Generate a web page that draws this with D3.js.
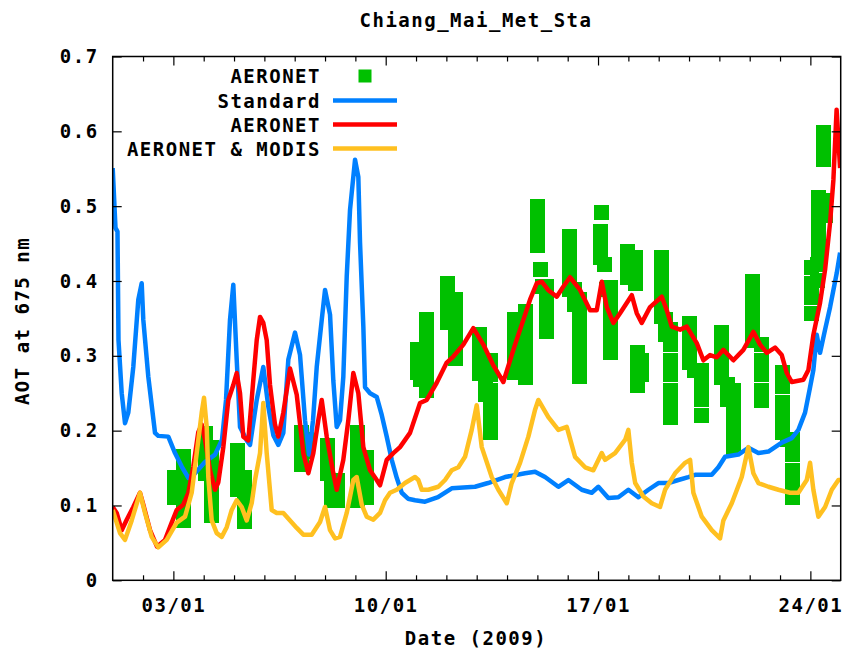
<!DOCTYPE html>
<html>
<head>
<meta charset="utf-8">
<script src="https://cdn.jsdelivr.net/npm/d3@7"></script>
<style>
  body { margin: 0; background: #fff; }
  text { font-family: "DejaVu Sans Mono", monospace; font-weight: bold; font-size: 19px; letter-spacing: 1.5px; fill: #000; }
</style>
</head>
<body>
<svg id="chart" width="843" height="653"></svg>
<script>
// Times are fractional days of January 2009 (1.5 = 01/01 12:00), values are AOT at 675 nm.

const chartTitle = "Chiang_Mai_Met_Sta";
const xTitle = "Date (2009)";
const yTitle = "AOT at 675 nm";

const weekDays = [3, 10, 17, 24];
const weekLabels = ["03/01", "10/01", "17/01", "24/01"];
const yTickValues = [0, 0.1, 0.2, 0.3, 0.4, 0.5, 0.6, 0.7];
const yTickLabels = ["0", "0.1", "0.2", "0.3", "0.4", "0.5", "0.6", "0.7"];

const legendLabels = ["AERONET", "Standard", "AERONET", "AERONET & MODIS"];

// AERONET observations (points)
const aeronetObs = [
  [3.038,0.138],[3.038,0.121],[3.038,0.111],[3.334,0.165],[3.334,0.147],[3.334,0.127],[3.334,0.107],[3.334,0.087],[3.334,0.080],
  [4.043,0.196],[4.043,0.178],[4.043,0.161],[4.043,0.143],[4.241,0.178],[4.241,0.158],[4.241,0.138],[4.241,0.118],[4.241,0.101],[4.241,0.086],
  [5.098,0.174],[5.098,0.157],[5.098,0.139],[5.098,0.122],[5.329,0.138],[5.329,0.121],[5.329,0.103],[5.329,0.087],[5.329,0.079],
  [7.208,0.197],[7.208,0.180],[7.208,0.162],[7.208,0.155],[7.373,0.188],[7.373,0.172],
  [8.066,0.180],[8.066,0.161],[8.066,0.143],[8.198,0.127],[8.198,0.107],[8.395,0.134],[8.395,0.118],[8.395,0.106],
  [9.055,0.198],[9.055,0.180],[9.055,0.161],[9.055,0.141],[9.055,0.121],[9.055,0.107],[9.352,0.164],[9.352,0.145],[9.352,0.125],[9.352,0.110],
  [11.033,0.308],[11.033,0.292],[11.033,0.278],[11.132,0.268],
  [11.330,0.348],[11.330,0.331],[11.330,0.313],[11.330,0.297],[11.330,0.281],[11.330,0.265],[11.330,0.254],
  [12.022,0.396],[12.022,0.379],[12.022,0.361],[12.022,0.344],[12.286,0.375],[12.286,0.357],[12.286,0.340],[12.286,0.323],[12.286,0.305],[12.286,0.297],
  [13.077,0.328],[13.077,0.311],[13.077,0.293],[13.077,0.276],[13.275,0.268],[13.275,0.248],
  [13.440,0.294],[13.440,0.275],[13.440,0.254],[13.440,0.234],[13.440,0.214],[13.440,0.198],
  [14.230,0.348],[14.230,0.331],[14.230,0.313],[14.230,0.296],[14.230,0.278],
  [14.593,0.359],[14.593,0.341],[14.593,0.321],[14.593,0.301],[14.593,0.281],[14.593,0.271],
  [14.993,0.499],[14.993,0.482],[14.993,0.464],[14.993,0.447],[15.092,0.415],[15.158,0.392],
  [15.290,0.392],[15.290,0.375],[15.290,0.357],[15.290,0.340],[15.290,0.332],
  [16.066,0.459],[16.066,0.442],[16.066,0.424],[16.066,0.407],[16.066,0.389],[16.231,0.388],[16.231,0.368],
  [16.396,0.375],[16.396,0.356],[16.396,0.337],[16.396,0.319],[16.396,0.300],[16.396,0.281],[16.396,0.273],
  [17.099,0.491],[17.066,0.466],[17.066,0.448],[17.066,0.431],[17.198,0.422],[17.264,0.388],
  [17.396,0.391],[17.396,0.373],[17.396,0.356],[17.396,0.339],[17.396,0.321],[17.396,0.304],
  [17.981,0.439],[17.981,0.422],[17.981,0.404],[18.245,0.431],[18.245,0.412],[18.245,0.396],
  [18.311,0.305],[18.311,0.288],[18.311,0.271],[18.311,0.260],[18.443,0.294],[18.443,0.275],
  [19.078,0.432],[19.078,0.412],[19.078,0.392],[19.078,0.372],[19.078,0.352],[19.210,0.348],[19.210,0.328],
  [19.374,0.335],[19.374,0.315],[19.374,0.294],[19.374,0.275],[19.374,0.254],[19.374,0.234],[19.374,0.218],
  [19.999,0.343],[19.999,0.325],[19.999,0.308],[19.999,0.291],[20.164,0.281],
  [20.395,0.281],[20.395,0.261],[20.395,0.241],[20.395,0.220],
  [21.056,0.331],[21.056,0.311],[21.056,0.291],[21.056,0.271],[21.254,0.261],[21.254,0.241],
  [21.452,0.254],[21.452,0.234],[21.452,0.214],[21.452,0.194],[21.452,0.178],
  [22.078,0.399],[22.078,0.380],[22.078,0.360],[22.078,0.340],[22.078,0.320],
  [22.375,0.315],[22.375,0.294],[22.375,0.275],[22.375,0.254],[22.375,0.240],
  [23.067,0.278],[23.067,0.259],[23.067,0.238],[23.067,0.218],[23.067,0.198],[23.232,0.188],
  [23.397,0.188],[23.397,0.168],[23.397,0.147],[23.397,0.127],[23.397,0.111],
  [24.419,0.598],[24.419,0.578],[24.419,0.562],
  [24.254,0.512],[24.254,0.492],[24.254,0.472],[24.254,0.452],[24.254,0.432],[24.485,0.508],[24.485,0.488],
  [24.023,0.418],[24.023,0.397],[24.023,0.378],[24.023,0.357],[24.221,0.422],[24.221,0.401]
];

// Standard retrieval (line)
const standardLine = [
  [1.000,0.551],[1.092,0.471],[1.158,0.466],[1.191,0.321],[1.297,0.250],[1.406,0.210],[1.514,0.224],[1.679,0.285],
  [1.844,0.375],[1.956,0.397],[2.009,0.348],[2.174,0.272],[2.395,0.197],[2.503,0.193],[2.833,0.192],[3.054,0.170],
  [3.275,0.152],[3.493,0.137],[3.713,0.143],[4.043,0.158],[4.373,0.168],[4.604,0.188],[4.736,0.241],[4.867,0.348],
  [4.976,0.395],[5.088,0.295],[5.197,0.205],[5.418,0.187],[5.527,0.181],[5.748,0.241],[5.965,0.285],[6.130,0.232],
  [6.295,0.194],[6.460,0.181],[6.625,0.197],[6.790,0.295],[7.011,0.331],[7.176,0.301],[7.340,0.214],[7.472,0.168],
  [7.604,0.214],[7.726,0.285],[7.891,0.348],[8.000,0.388],[8.165,0.355],[8.273,0.267],[8.385,0.205],[8.494,0.214],
  [8.603,0.272],[8.715,0.406],[8.824,0.495],[8.989,0.562],[9.098,0.539],[9.154,0.451],[9.263,0.339],[9.319,0.258],
  [9.484,0.250],[9.704,0.245],[9.869,0.221],[10.034,0.192],[10.199,0.161],[10.364,0.137],[10.529,0.117],[10.736,0.109],
  [10.967,0.107],[11.297,0.105],[11.725,0.111],[12.177,0.123],[12.945,0.125],[13.374,0.130],[13.934,0.138],[14.594,0.143],
  [14.924,0.145],[15.253,0.138],[15.692,0.125],[16.021,0.134],[16.463,0.121],[16.793,0.117],[17.011,0.125],[17.340,0.110],
  [17.670,0.111],[18.000,0.121],[18.329,0.111],[18.659,0.121],[18.989,0.130],[19.319,0.130],[19.648,0.134],[19.978,0.138],
  [20.199,0.141],[20.749,0.141],[20.967,0.151],[21.188,0.165],[21.626,0.168],[21.956,0.177],[22.286,0.170],[22.616,0.172],
  [23.057,0.184],[23.387,0.190],[23.605,0.201],[23.825,0.224],[23.990,0.258],[24.099,0.281],[24.211,0.328],[24.320,0.304],
  [24.485,0.335],[24.650,0.365],[24.871,0.411],[24.980,0.438]
];

// AERONET-constrained retrieval (line)
const aeronetLine = [
  [1.000,0.098],[1.132,0.090],[1.297,0.067],[1.462,0.081],[1.679,0.098],[1.900,0.117],[2.009,0.101],[2.230,0.067],
  [2.461,0.045],[2.725,0.054],[2.945,0.077],[3.110,0.094],[3.328,0.101],[3.493,0.117],[3.657,0.152],[3.822,0.198],
  [3.934,0.208],[4.043,0.188],[4.208,0.147],[4.373,0.121],[4.482,0.131],[4.647,0.178],[4.811,0.241],[4.976,0.261],
  [5.088,0.277],[5.197,0.250],[5.306,0.192],[5.471,0.187],[5.636,0.268],[5.748,0.321],[5.857,0.352],[5.965,0.344],
  [6.077,0.321],[6.186,0.261],[6.351,0.208],[6.460,0.192],[6.625,0.224],[6.846,0.283],[7.067,0.248],[7.284,0.170],
  [7.449,0.143],[7.614,0.170],[7.779,0.214],[7.891,0.241],[8.056,0.192],[8.273,0.143],[8.385,0.121],[8.603,0.161],
  [8.768,0.214],[8.933,0.277],[9.098,0.250],[9.263,0.178],[9.484,0.147],[9.704,0.134],[9.813,0.127],[10.034,0.161],
  [10.252,0.170],[10.472,0.178],[10.802,0.197],[11.132,0.237],[11.353,0.241],[11.682,0.264],[12.012,0.291],[12.230,0.299],
  [12.560,0.315],[12.889,0.337],[13.219,0.315],[13.539,0.288],[13.878,0.265],[14.264,0.315],[14.538,0.348],[14.758,0.375],
  [14.979,0.397],[15.144,0.399],[15.352,0.388],[15.639,0.379],[15.847,0.392],[16.077,0.405],[16.407,0.388],[16.737,0.361],
  [16.958,0.361],[17.123,0.399],[17.288,0.365],[17.505,0.344],[17.726,0.357],[18.112,0.381],[18.276,0.357],[18.441,0.344],
  [18.715,0.365],[19.101,0.379],[19.266,0.361],[19.431,0.339],[19.705,0.335],[19.925,0.339],[20.255,0.317],[20.473,0.294],
  [20.694,0.301],[20.915,0.298],[21.132,0.308],[21.462,0.294],[21.791,0.308],[22.121,0.332],[22.342,0.315],[22.563,0.304],
  [22.836,0.311],[23.057,0.301],[23.222,0.277],[23.387,0.265],[23.770,0.268],[23.935,0.281],[24.099,0.328],[24.320,0.371],
  [24.485,0.415],[24.650,0.478],[24.759,0.535],[24.865,0.629],[24.980,0.551]
];

// AERONET & MODIS constrained retrieval (line)
const modisLine = [
  [1.000,0.094],[1.241,0.063],[1.406,0.054],[1.626,0.080],[1.900,0.117],[2.065,0.090],[2.286,0.058],[2.503,0.044],
  [2.780,0.054],[3.110,0.077],[3.384,0.085],[3.605,0.117],[3.770,0.170],[3.934,0.224],[4.010,0.244],[4.099,0.205],
  [4.152,0.138],[4.264,0.080],[4.429,0.063],[4.594,0.058],[4.759,0.071],[4.924,0.094],[5.088,0.107],[5.253,0.098],
  [5.418,0.080],[5.583,0.103],[5.692,0.134],[5.857,0.170],[5.965,0.237],[6.077,0.170],[6.242,0.094],[6.407,0.090],
  [6.625,0.090],[6.846,0.080],[7.067,0.070],[7.284,0.061],[7.561,0.061],[7.835,0.078],[8.000,0.098],[8.165,0.067],
  [8.330,0.056],[8.494,0.058],[8.715,0.090],[8.933,0.134],[9.045,0.138],[9.210,0.101],[9.374,0.085],[9.592,0.081],
  [9.813,0.090],[9.978,0.107],[10.143,0.117],[10.364,0.121],[10.637,0.130],[10.967,0.138],[11.076,0.134],[11.188,0.121],
  [11.406,0.121],[11.735,0.125],[11.956,0.134],[12.177,0.147],[12.395,0.151],[12.615,0.165],[12.836,0.201],[13.001,0.234],
  [13.166,0.178],[13.496,0.138],[13.714,0.121],[13.991,0.103],[14.155,0.130],[14.429,0.157],[14.703,0.192],[14.924,0.228],
  [15.032,0.241],[15.362,0.218],[15.692,0.201],[15.969,0.205],[16.243,0.165],[16.573,0.151],[16.846,0.147],[17.123,0.170],
  [17.231,0.161],[17.561,0.170],[17.897,0.188],[18.000,0.201],[18.112,0.157],[18.226,0.130],[18.494,0.112],[18.771,0.103],
  [19.045,0.098],[19.210,0.121],[19.540,0.143],[19.870,0.157],[20.035,0.161],[20.143,0.117],[20.420,0.085],[20.749,0.067],
  [21.023,0.056],[21.132,0.080],[21.409,0.103],[21.738,0.138],[21.956,0.178],[22.121,0.143],[22.286,0.130],[22.616,0.125],
  [22.945,0.121],[23.331,0.117],[23.605,0.117],[23.881,0.134],[23.990,0.157],[24.099,0.121],[24.264,0.085],[24.485,0.098],
  [24.706,0.121],[24.924,0.134],[24.980,0.134]
];

const colors = { obs: "#00c000", standard: "#0080ff", aeronet: "#ff0000", modis: "#ffc020" };

const dayToDate = d => new Date(Date.UTC(2009, 0, 1) + (d - 1) * 864e5);

const margin = { left: 112.7, right: 840.7, top: 56.5, bottom: 580.3 };
const svg = d3.select("#chart");

const x = d3.scaleUtc().domain([dayToDate(1), dayToDate(25)]).range([margin.left, margin.right]);
const y = d3.scaleLinear().domain([0, 0.7]).range([margin.bottom, margin.top]);

svg.append("defs").append("clipPath").attr("id", "plot-clip")
  .append("rect").attr("x", margin.left).attr("y", margin.top)
  .attr("width", margin.right - margin.left).attr("height", margin.bottom - margin.top);

// Observation squares
const sq = 15;
svg.append("g").attr("clip-path", "url(#plot-clip)")
  .attr("shape-rendering", "crispEdges")
  .selectAll("rect").data(aeronetObs).join("rect")
  .attr("x", d => x(dayToDate(d[0])) - sq / 2)
  .attr("y", d => y(d[1]) - sq / 2)
  .attr("width", sq).attr("height", sq)
  .attr("fill", colors.obs);

// Retrieval lines
const line = d3.line().x(d => x(dayToDate(d[0]))).y(d => y(d[1]));
const lineGroup = svg.append("g").attr("clip-path", "url(#plot-clip)");
[[standardLine, colors.standard], [aeronetLine, colors.aeronet], [modisLine, colors.modis]].forEach(([data, c]) => {
  lineGroup.append("path").datum(data).attr("d", line)
    .attr("fill", "none").attr("stroke", c).attr("stroke-width", 4.5)
    .attr("stroke-linejoin", "round").attr("stroke-linecap", "butt");
});

// Axes: ticks point inward on all four sides
const dailyTicks = d3.range(2, 25).filter(d => !weekDays.includes(d)).map(dayToDate);
const weeklyTicks = weekDays.map(dayToDate);
const weekLabelOf = d => weekLabels[weeklyTicks.findIndex(t => +t === +d)];

const axisStyle = g => {
  g.select(".domain").remove();
  g.selectAll("line").attr("stroke", "#000").attr("stroke-width", 1.2);
};
const textStyle = g => g.selectAll("text").attr("font-family", null).attr("font-size", null).attr("fill", "#000");

svg.append("g").attr("transform", `translate(0,${margin.bottom})`)
  .call(d3.axisBottom(x).tickValues(weeklyTicks).tickSize(-9).tickPadding(18).tickFormat(weekLabelOf))
  .call(axisStyle).call(textStyle);
svg.append("g").attr("transform", `translate(0,${margin.bottom})`)
  .call(d3.axisBottom(x).tickValues(dailyTicks).tickSize(-5).tickFormat(""))
  .call(axisStyle);
svg.append("g").attr("transform", `translate(0,${margin.top})`)
  .call(d3.axisTop(x).tickValues(weeklyTicks).tickSize(-9).tickFormat(""))
  .call(axisStyle);
svg.append("g").attr("transform", `translate(0,${margin.top})`)
  .call(d3.axisTop(x).tickValues(dailyTicks).tickSize(-5).tickFormat(""))
  .call(axisStyle);

svg.append("g").attr("transform", `translate(${margin.left},0)`)
  .call(d3.axisLeft(y).tickValues(yTickValues).tickSize(-9).tickPadding(14)
    .tickFormat((d, i) => yTickLabels[i]))
  .call(axisStyle).call(textStyle);
svg.append("g").attr("transform", `translate(${margin.right},0)`)
  .call(d3.axisRight(y).tickValues(yTickValues).tickSize(-9).tickFormat(""))
  .call(axisStyle);

// Plot border
svg.append("rect")
  .attr("x", margin.left).attr("y", margin.top)
  .attr("width", margin.right - margin.left).attr("height", margin.bottom - margin.top)
  .attr("fill", "none").attr("stroke", "#000").attr("stroke-width", 1.5);

// Titles
svg.append("text").attr("x", 476).attr("y", 27).attr("text-anchor", "middle").text(chartTitle);
svg.append("text").attr("x", 476).attr("y", 645).attr("text-anchor", "middle").text(xTitle);
svg.append("text").attr("transform", "translate(29,321) rotate(-90)").attr("text-anchor", "middle").text(yTitle);

// Legend
const legendRows = [76, 100.5, 124.5, 148.5];
const legend = svg.append("g");
legendLabels.forEach((label, i) => {
  legend.append("text").attr("x", 321).attr("y", legendRows[i] + 7).attr("text-anchor", "end").text(label);
});
legend.append("rect").attr("x", 365 - 13 / 2).attr("y", legendRows[0] - 13 / 2)
  .attr("width", 13).attr("height", 13).attr("fill", colors.obs);
[colors.standard, colors.aeronet, colors.modis].forEach((c, i) => {
  legend.append("line").attr("x1", 333).attr("x2", 397)
    .attr("y1", legendRows[i + 1]).attr("y2", legendRows[i + 1])
    .attr("stroke", c).attr("stroke-width", 4.5);
});
</script>
</body>
</html>
